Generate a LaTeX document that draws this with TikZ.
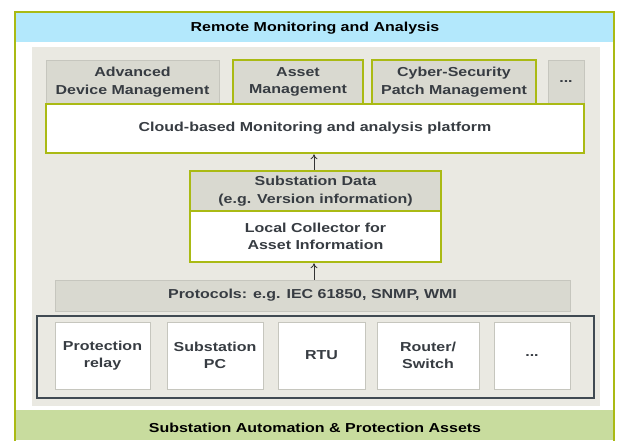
\documentclass[tikz,border=0pt]{standalone}
\usepackage{fontspec}
\setmainfont{Liberation Sans}[FakeStretch=1.23]
\usepackage{xcolor}
\usetikzlibrary{arrows.meta}

\definecolor{framegreen}{RGB}{170,186,20}
\definecolor{headblue}{RGB}{179,232,252}
\definecolor{footgreen}{RGB}{200,220,158}
\definecolor{panelgrey}{RGB}{234,233,226}
\definecolor{boxgrey}{RGB}{217,217,208}
\definecolor{boxline}{RGB}{198,198,190}
\definecolor{textgrey}{RGB}{55,60,66}
\definecolor{darkframe}{RGB}{64,74,82}

\tikzset{
  lbl/.style={inner sep=0pt, align=center, font=\fontsize{13}{17.5}\selectfont\bfseries},
  greybox/.style={lbl, draw=boxline, fill=boxgrey, line width=1pt, text=textgrey},
  whitebox/.style={lbl, draw=boxline, fill=white, line width=1pt, text=textgrey},
  hilite/.style={draw=framegreen, line width=2.5pt},
  uparrow/.style={-{To[length=5pt,width=7pt]}, line width=0.8pt, draw=black!80}
}

\begin{document}
\begin{tikzpicture}[x=1pt,y=-1pt]
	\clip (0,0) rectangle (617,440);
	\fill[white] (0,0) rectangle (617,440);
	% outer frame with header and footer bands
	\fill[headblue] (16,13) rectangle (613,42);
	\fill[footgreen] (16,410) rectangle (613,440);
	\draw[framegreen, line width=2pt] (15,12) rectangle (614,460);
	\node[lbl] (head) at (315,28) {Remote Monitoring and Analysis};
	\node[lbl] (foot) at (315,428) {Substation Automation \& Protection Assets};
	\fill[panelgrey] (32,47) rectangle (600,406);

	% services
	\node[greybox, minimum width=173pt, minimum height=44pt] (adm) at (132.5,82) {Advanced\\Device Management};
	\node[greybox, hilite, minimum width=130pt, minimum height=44pt] (asset) at (298,82) {Asset\\Management};
	\node[greybox, hilite, minimum width=164pt, minimum height=44pt] (cyber) at (454,82) {Cyber-Security\\Patch Management};
	\node[greybox, minimum width=36pt, minimum height=44pt] (more) at (566,82) {...};
	\node[whitebox, hilite, minimum width=538pt, minimum height=49pt] (cloud) at (315,128.5) {Cloud-based Monitoring and analysis platform};

	% local collector
	\node[greybox, hilite, minimum width=251pt, minimum height=40pt] (sdata) at (315.5,191) {Substation Data\\(e.g. Version information)};
	\node[whitebox, hilite, minimum width=251pt, minimum height=51pt] (collector) at (315.5,236.5) {Local Collector for\\Asset Information};
	\node[greybox, minimum width=515pt, minimum height=31pt] (protocols) at (312.5,295.5) {Protocols: e.g. IEC 61850, SNMP, WMI};

	% assets
	\node[draw=darkframe, line width=2pt, minimum width=557pt, minimum height=82pt] (devices) at (315.5,357) {};
	\node[whitebox, minimum width=95pt, minimum height=67pt] (relay) at (102.5,355.5) {Protection\\relay};
	\node[whitebox, minimum width=96pt, minimum height=67pt] (pc) at (215,355.5) {Substation\\PC};
	\node[whitebox, minimum width=87pt, minimum height=67pt] (rtu) at (321.5,355.5) {RTU};
	\node[whitebox, minimum width=102pt, minimum height=67pt] (router) at (428,355.5) {Router/\\Switch};
	\node[whitebox, minimum width=76pt, minimum height=67pt] (moredev) at (532,355.5) {...};

	\draw[uparrow] (sdata.north -| 314,0) -- (cloud.south -| 314,0);
	\draw[uparrow] (protocols.north -| 314,0) -- (collector.south -| 314,0);
\end{tikzpicture}
\end{document}
